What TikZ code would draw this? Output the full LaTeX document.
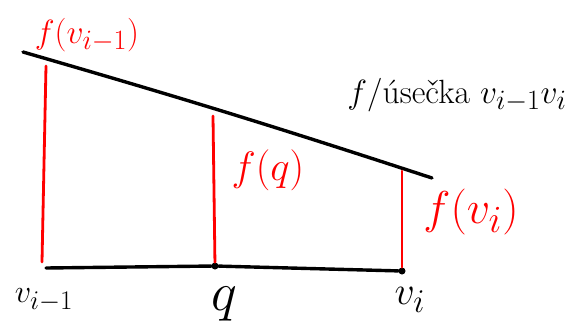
\documentclass[tikz,border=0pt]{standalone}
\usepackage{graphicx}
\begin{document}
\begin{tikzpicture}[x=1pt,y=-1pt,
  blk/.style={line width=3.4pt,line cap=round,black},
  redline/.style={line width=2.8pt,line cap=round,red},
  dot/.style={circle,fill=black,inner sep=0pt,minimum size=7pt},
  rlab/.style={red,font=\Huge},
  blab/.style={black,font=\Huge}]
\useasboundingbox (0,0) rectangle (571,330);
% top line (graph of f)
\coordinate (A) at (23,52);
\coordinate (B) at (432,178);
\draw[blk] (A) to[bend left=1] (B);
% bottom segment
\coordinate (L) at (46,268);
\node[dot] (Q) at (215,266) {};
\node[dot] (R) at (402,271) {};
\draw[blk] (L) -- (Q) -- (R);
% red verticals
\coordinate (Lt) at (46,66);
\coordinate (Lb) at (42,262);
\coordinate (Qt) at (213,116);
\coordinate (Rt) at (402,171);
\draw[redline] (Lt) -- (Lb);
\draw[redline] (Qt) -- (Q);
\draw[redline] (Rt) -- (R);
% labels
\node[rlab] (fv1) at (87,35) {\scalebox{1.35}{$f(v_{i-1})$}};
\node[rlab] (fq) at (268,170) {\scalebox{1.65}{$f(q)$}};
\node[rlab] (fvi) at (471,212) {\scalebox{1.85}{$f(v_i)$}};
\node[blab] (fus) at (457,95) {\scalebox{1.35}{$f$/úsečka $v_{i-1}v_i$}};
\node[blab] (lv1) at (44,300) {\scalebox{1.3}{$v_{i-1}$}};
\node[blab] (lq) at (224,304) {\scalebox{2.2}{$q$}};
\node[blab] (lvi) at (410,300) {\scalebox{1.6}{$v_i$}};
\end{tikzpicture}
\end{document}
